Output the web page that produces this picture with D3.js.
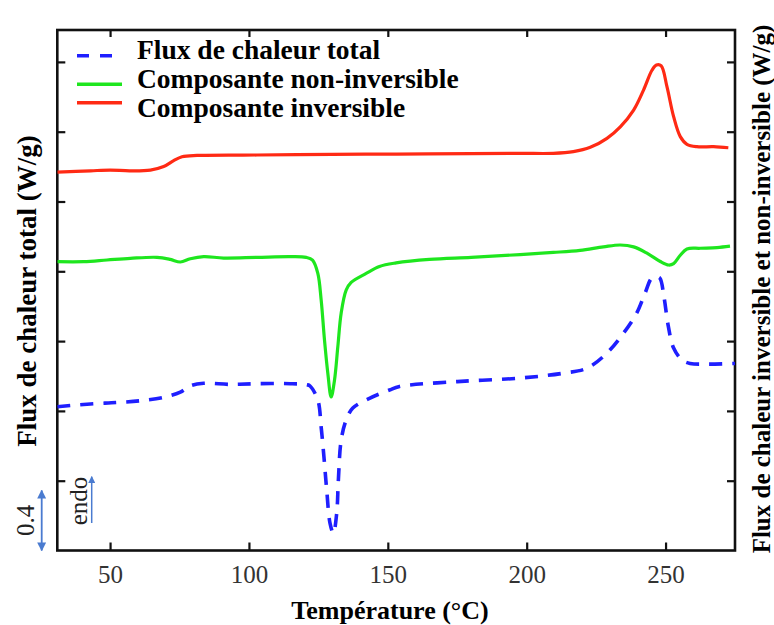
<!DOCTYPE html>
<html>
<head>
<meta charset="utf-8">
<script src="https://cdn.jsdelivr.net/npm/d3@7"></script>
<style>
  html, body { margin: 0; padding: 0; background: #fff; }
  svg { display: block; }
  text { font-family: "Liberation Serif", "Times New Roman", serif; }
</style>
</head>
<body>
<svg id="chart" width="774" height="625"></svg>
<script>
// ---- data (temperature °C, signal in axis-tick units) ----
const xTicks = [50, 100, 150, 200, 250];
const yTicks = [1, 2, 3, 4, 5, 6, 7];
const scaleBarValue = "0.4";
const scaleBarLength = 0.86;   // 0.4 W/g expressed in tick units
const endoLabel = "endo";

const totalFlux = [
  [31,2.06],[42.9,2.10],[52.5,2.12],[60.9,2.146],[69.3,2.195],[75.3,2.27],[78.9,2.36],
  [83.7,2.395],[93.3,2.38],[102.9,2.39],[114.9,2.39],[120.9,2.375],[122,2.357],
  [124.8,2.156],[126,1.77],[127,1.34],[128,0.867],[129.2,0.39],[130.4,0.246],
  [131.6,0.535],[132.2,1.01],[133.2,1.58],[135,1.87],[137.4,2.04],[143.4,2.18],
  [150.6,2.30],[154.2,2.35],[175,2.42],[197.6,2.47],[213.2,2.54],[221.6,2.61],
  [228.8,2.825],[234.8,3.11],[239.6,3.40],[242.6,3.685],[245,3.90],[246.8,3.92],
  [248,3.90],[249.4,3.64],[251,3.21],[252.9,2.90],[255.9,2.73],[258.8,2.68],
  [264.8,2.67],[275,2.68]
];
const nonReversing = [
  [31,4.138],[40.5,4.138],[48.9,4.162],[57.3,4.186],[66.9,4.20],[71.7,4.17],[75.3,4.133],
  [78.9,4.18],[83.7,4.21],[90.9,4.19],[102.9,4.20],[114.9,4.21],[120.6,4.20],[122.9,4.16],
  [124.8,3.97],[126,3.59],[127.2,3.016],[128.4,2.54],[129.6,2.20],[130.8,2.44],[132,2.92],
  [133.2,3.40],[135,3.73],[136.8,3.84],[142.2,3.97],[147,4.07],[153,4.12],[165,4.17],
  [180,4.20],[197.6,4.24],[209.6,4.27],[219.2,4.30],[227.6,4.35],[233.7,4.377],[238.5,4.35],
  [243.3,4.26],[248.1,4.14],[251.1,4.09],[252.9,4.11],[255.3,4.23],[257.7,4.32],
  [262.5,4.33],[268.5,4.34],[273.2,4.36]
];
const reversing = [
  [31,5.42],[43,5.44],[50,5.45],[57,5.44],[64.5,5.45],[69.3,5.50],[72.9,5.585],[75.9,5.64],
  [81.3,5.66],[102.9,5.666],[130,5.675],[153.3,5.68],[180,5.685],[197.6,5.69],[209.6,5.69],
  [216.8,5.714],[222.9,5.776],[228.9,5.905],[233.7,6.07],[238.5,6.31],[242.1,6.60],
  [245.1,6.88],[246.7,6.955],[248.4,6.945],[250.5,6.645],[252.9,6.215],[255.3,5.93],
  [257.7,5.82],[261.3,5.785],[267.3,5.785],[272.6,5.77]
];
const seriesNames = ["Flux de chaleur total", "Composante non-inversible", "Composante inversible"];
const seriesColors = ["#1f1fff", "#1ee61e", "#ff2a14"];
const xTitle = "Température (°C)";
const yTitleLeft = "Flux de chaleur total (W/g)";
const yTitleRight = "Flux de chaleur inversible et non-inversible (W/g)";

// ---- layout ----
const svg = d3.select("#chart");
const L = 57.3, R = 735, T = 30, B = 550.5;
const x = d3.scaleLinear().domain([31, 275]).range([L, R]);
const y = d3.scaleLinear().domain([0, 7.457]).range([B, T]);

const axisColor = "#111";
const tickFont = 25;

// axes
const gB = svg.append("g").attr("transform", `translate(0,${B})`)
  .call(d3.axisBottom(x).tickValues(xTicks).tickSizeInner(-8).tickSizeOuter(0).tickPadding(15).tickFormat(d3.format("d")));
const gT = svg.append("g").attr("transform", `translate(0,${T})`)
  .call(d3.axisTop(x).tickValues(xTicks).tickSizeInner(-7).tickSizeOuter(0).tickFormat(""));
const gL = svg.append("g").attr("transform", `translate(${L},0)`)
  .call(d3.axisLeft(y).tickValues(yTicks).tickSizeInner(-8).tickSizeOuter(0).tickFormat(""));
const gR = svg.append("g").attr("transform", `translate(${R},0)`)
  .call(d3.axisRight(y).tickValues(yTicks).tickSizeInner(-8).tickSizeOuter(0).tickFormat(""));
[gB, gT, gL, gR].forEach(g => {
  g.attr("font-family", null);
  g.select(".domain").remove();
  g.selectAll(".tick line").attr("stroke", axisColor).attr("stroke-width", 2.2);
});
gB.selectAll(".tick text").attr("font-size", tickFont).attr("fill", "#333");

// frame
svg.append("rect").attr("x", L).attr("y", T).attr("width", R - L).attr("height", B - T)
  .attr("fill", "none").attr("stroke", axisColor).attr("stroke-width", 2.6);

// curves
const line = d3.line().x(d => x(d[0])).y(d => y(d[1])).curve(d3.curveCatmullRom.alpha(0.5));
const dataSets = [totalFlux, nonReversing, reversing];
svg.append("clipPath").attr("id", "plotclip").append("rect")
  .attr("x", L).attr("y", T).attr("width", R - L).attr("height", B - T);
dataSets.forEach((ds, i) => {
  svg.append("path").datum(ds).attr("d", line)
    .attr("clip-path", "url(#plotclip)")
    .attr("fill", "none").attr("stroke", seriesColors[i])
    .attr("stroke-width", i === 0 ? 3.6 : 3.2)
    .attr("stroke-dasharray", i === 0 ? "13,10" : null)
    .attr("stroke-linejoin", "round");
});

// legend
const legY = [55.7, 84.3, 102.7];
const legTextY = [59, 88, 117];
seriesNames.forEach((name, i) => {
  svg.append("line").attr("x1", 77).attr("x2", 122).attr("y1", legY[i]).attr("y2", legY[i])
    .attr("stroke", seriesColors[i]).attr("stroke-width", 3.6)
    .attr("stroke-dasharray", i === 0 ? "12,11" : null);
  svg.append("text").attr("x", 137).attr("y", legTextY[i]).text(name)
    .attr("font-size", 27.5).attr("font-weight", "bold").attr("fill", "#000");
});

// axis titles
svg.append("text").attr("x", 390).attr("y", 619).attr("text-anchor", "middle")
  .attr("font-size", 26).attr("font-weight", "bold").text(xTitle);
svg.append("text").attr("transform", "translate(36,291) rotate(-90)").attr("text-anchor", "middle")
  .attr("font-size", 27).attr("font-weight", "bold").text(yTitleLeft);
svg.append("text").attr("transform", "translate(770,289) rotate(-90)").attr("text-anchor", "middle")
  .attr("font-size", 25).attr("font-weight", "bold").text(yTitleRight);

// scale bar (0.4) and endo arrow
const arrowBlue = "#4a7bd0";
const defs = svg.append("defs");
defs.append("marker").attr("id", "ah").attr("viewBox", "0 0 10 10").attr("refX", 9).attr("refY", 5)
  .attr("markerWidth", 5).attr("markerHeight", 5).attr("orient", "auto-start-reverse")
  .append("path").attr("d", "M0,0 L10,5 L0,10 z").attr("fill", arrowBlue);
svg.append("line").attr("x1", 41.7).attr("x2", 41.7).attr("y1", y(0)).attr("y2", y(scaleBarLength))
  .attr("stroke", arrowBlue).attr("stroke-width", 1.8)
  .attr("marker-start", "url(#ah)").attr("marker-end", "url(#ah)");
svg.append("text").attr("transform", `translate(34,${(y(0) + y(scaleBarLength)) / 2}) rotate(-90)`)
  .attr("text-anchor", "middle").attr("font-size", 25).attr("fill", "#222").text(scaleBarValue);
svg.append("line").attr("x1", 91.7).attr("x2", 91.7).attr("y1", 523).attr("y2", 476.7)
  .attr("stroke", arrowBlue).attr("stroke-width", 1.5).attr("marker-end", "url(#ah)");
svg.append("text").attr("transform", "translate(87,501) rotate(-90)")
  .attr("text-anchor", "middle").attr("font-size", 25).attr("fill", "#222").text(endoLabel);
</script>
</body>
</html>
